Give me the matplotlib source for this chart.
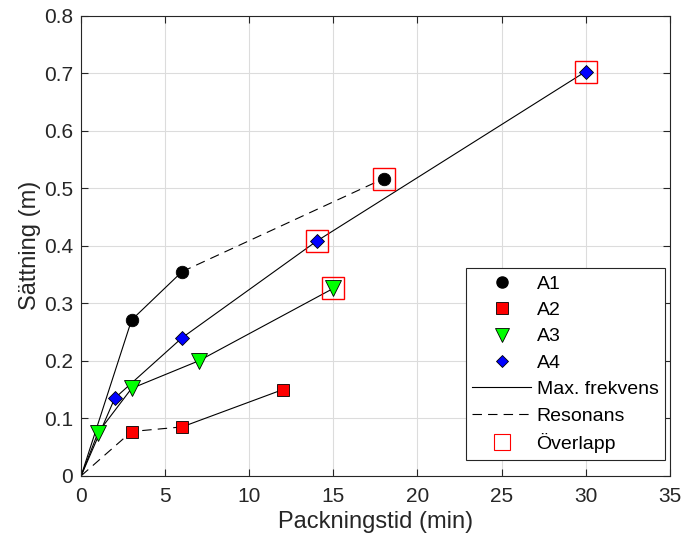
import matplotlib.pyplot as plt
from matplotlib.lines import Line2D

plt.rcParams['font.family'] = ['Liberation Sans', 'DejaVu Sans']

# Data (packningstid in min, sättning in m)
a1_x = [3, 6, 18]
a1_y = [0.271, 0.355, 0.517]
a2_x = [3, 6, 12]
a2_y = [0.077, 0.085, 0.150]
a3_x = [1, 3, 7, 15]
a3_y = [0.075, 0.152, 0.200, 0.326]
a4_x = [2, 6, 14, 30]
a4_y = [0.135, 0.240, 0.408, 0.703]

# which segments (from origin) are "Resonans" (dashed)
a1_dashed_from = 2   # segments after index 2 of [0]+x are dashed
a2_dashed_until = 2  # first two segments dashed

overlap_x = [18, 14, 15, 30]
overlap_y = [0.517, 0.408, 0.326, 0.703]

fig, ax = plt.subplots(figsize=(6.82, 5.45), dpi=100)
fig.subplots_adjust(left=0.119, right=0.982, top=0.971, bottom=0.127)

lw = 0.8
dash = (8.5, 5.5)
# lines
x1 = [0] + a1_x
y1 = [0] + a1_y
ax.plot(x1[:a1_dashed_from + 1], y1[:a1_dashed_from + 1], 'k-', lw=lw)
ax.plot(x1[a1_dashed_from:], y1[a1_dashed_from:], 'k--', lw=lw, dashes=dash)
x2 = [0] + a2_x
y2 = [0] + a2_y
ax.plot(x2[:a2_dashed_until + 1], y2[:a2_dashed_until + 1], 'k--', lw=lw, dashes=dash)
ax.plot(x2[a2_dashed_until:], y2[a2_dashed_until:], 'k-', lw=lw)
ax.plot([0] + a3_x, [0] + a3_y, 'k-', lw=lw)
ax.plot([0] + a4_x, [0] + a4_y, 'k-', lw=lw)

# markers
ax.plot(a1_x, a1_y, 'o', ms=9, mfc='black', mec='black', mew=0.6, ls='none', zorder=3)
ax.plot(a2_x, a2_y, 's', ms=9, mfc='red', mec='black', mew=0.6, ls='none', zorder=3)
ax.plot(a3_x, a3_y, 'v', ms=11, mfc='#00ff00', mec='black', mew=0.6, ls='none', zorder=3)
ax.plot(a4_x, a4_y, 'D', ms=7, mfc='blue', mec='black', mew=0.6, ls='none', zorder=3)
ax.plot(overlap_x, overlap_y, 's', ms=16, mfc='none', mec='#ff0000', mew=1.0, ls='none', zorder=4)

ax.set_xlim(0, 35)
ax.set_ylim(0, 0.8)
ax.set_xticks(range(0, 36, 5))
ax.set_yticks([0, 0.1, 0.2, 0.3, 0.4, 0.5, 0.6, 0.7, 0.8])
ax.set_yticklabels(['0', '0.1', '0.2', '0.3', '0.4', '0.5', '0.6', '0.7', '0.8'])
ax.grid(True, color='#dcdcdc', lw=0.8)
ax.set_axisbelow(True)
ax.tick_params(direction='in', labelsize=15, colors='#262626', length=5, top=True, right=True,
               labeltop=False, labelright=False)
ax.tick_params(axis='x', pad=8)
ax.tick_params(axis='y', pad=6)
for s in ax.spines.values():
    s.set_color('#262626')
    s.set_linewidth(0.8)
ax.set_xlabel('Packningstid (min)', fontsize=17, color='#262626', labelpad=4)
ax.set_ylabel('Sättning (m)', fontsize=17, color='#262626', labelpad=2)

handles = [
    Line2D([], [], marker='o', ls='none', ms=8, mfc='black', mec='black'),
    Line2D([], [], marker='s', ls='none', ms=8, mfc='red', mec='black', mew=0.6),
    Line2D([], [], marker='v', ls='none', ms=10, mfc='#00ff00', mec='black', mew=0.6),
    Line2D([], [], marker='D', ls='none', ms=6.5, mfc='blue', mec='black', mew=0.6),
    Line2D([], [], color='black', lw=lw),
    Line2D([], [], color='black', lw=lw, ls='--', dashes=dash),
    Line2D([], [], marker='s', ls='none', ms=12, mfc='none', mec='#ff0000', mew=0.8),
]
labels = ['A1', 'A2', 'A3', 'A4', 'Max. frekvens', 'Resonans', 'Överlapp']
leg = ax.legend(handles, labels, loc='lower right', bbox_to_anchor=(1.009, 0.013),
                fontsize=14, fancybox=False, framealpha=1, edgecolor='#262626',
                handlelength=3.0, handletextpad=0.3, labelspacing=0.45, borderpad=0.35)
leg.get_frame().set_linewidth(0.8)

fig.savefig('out.png', dpi=100)
